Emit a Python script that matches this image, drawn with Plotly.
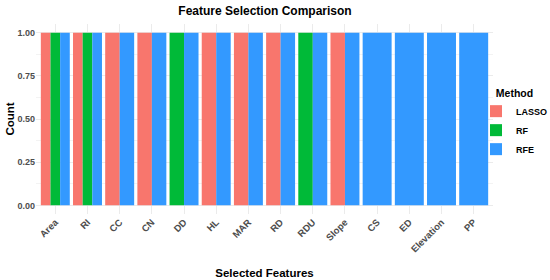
import plotly.graph_objects as go

features = ["Area", "RI", "CC", "CN", "DD", "HL", "MAR", "RD", "RDU", "Slope",
            "CS", "ED", "Elevation", "PP"]
methods = ["LASSO", "RF", "RFE"]
lasso_features = ["Area", "RI", "CC", "CN", "HL", "MAR", "RD", "Slope"]
lasso_counts = [1, 1, 1, 1, 1, 1, 1, 1]
rf_features = ["Area", "RI", "DD", "RDU"]
rf_counts = [1, 1, 1, 1]
rfe_features = ["Area", "RI", "CC", "CN", "DD", "HL", "MAR", "RD", "RDU", "Slope",
                "CS", "ED", "Elevation", "PP"]
rfe_counts = [1, 1, 1, 1, 1, 1, 1, 1, 1, 1, 1, 1, 1, 1]
y_ticks = [0.0, 0.25, 0.5, 0.75, 1.0]
y_tick_labels = ["0.00", "0.25", "0.50", "0.75", "1.00"]

colors = {"LASSO": "#F8766D", "RF": "#00BA38", "RFE": "#3399FF"}
sel = {"LASSO": (lasso_features, lasso_counts),
       "RF": (rf_features, rf_counts),
       "RFE": (rfe_features, rfe_counts)}

# dodge layout like ggplot: bars in a category share total width 0.9
present = {f: [m for m in methods if f in sel[m][0]] for f in features}
TOTAL = 0.9

fig = go.Figure()
for m in methods:
    fx, fy = sel[m]
    widths, offsets = [], []
    for f in fx:
        grp = present[f]
        w = TOTAL / len(grp)
        k = grp.index(m)
        widths.append(w)
        offsets.append(-TOTAL / 2 + k * w)
    fig.add_trace(go.Bar(
        x=fx, y=fy, name=m, width=widths, offset=offsets,
        marker=dict(color=colors[m], line=dict(width=0)),
    ))

font_fam = "Liberation Sans, Arial, sans-serif"
fig.update_layout(
    width=550, height=280,
    barmode="overlay",
    paper_bgcolor="white", plot_bgcolor="white",
    margin=dict(l=36, r=57, t=24, b=66, autoexpand=False),
    font=dict(family=font_fam, color="#000000"),
    title=dict(text="<b>Feature Selection Comparison</b>", x=265 / 550, xref="container",
               xanchor="center", y=1 - 11 / 280, yref="container", yanchor="middle",
               font=dict(size=12, color="#000000")),
    legend=dict(title=dict(text="<b>Method</b>", font=dict(size=10.5), side="top center"),
                xref="container", yref="container",
                x=476 / 550, xanchor="left", y=1 - 83 / 280, yanchor="top",
                font=dict(size=9, weight="bold"), tracegroupgap=0,
                itemwidth=30, bgcolor="rgba(0,0,0,0)"),
    showlegend=True,
)
fig.update_xaxes(
    type="category", categoryorder="array", categoryarray=features,
    range=[-0.6, len(features) - 0.4], automargin=False,
    showgrid=True, gridcolor="#EBEBEB", gridwidth=1,
    tickangle=-45, tickfont=dict(size=9.5, color="#4D4D4D", weight="bold"),
    ticks="", showline=False, zeroline=False,
    title=dict(text="<b>Selected Features</b>", font=dict(size=11.5), standoff=15),
)
fig.update_yaxes(
    range=[-0.05, 1.05], tickvals=y_ticks, ticktext=y_tick_labels, automargin=False,
    showgrid=True, gridcolor="#EBEBEB", gridwidth=1,
    minor=dict(tickvals=[0.125, 0.375, 0.625, 0.875], showgrid=True,
               gridcolor="#F3F3F3", gridwidth=0.5),
    tickfont=dict(size=9, color="#4D4D4D", weight="bold"),
    ticks="", showline=False, zeroline=False,
    title=dict(text="<b>Count</b>", font=dict(size=11.5), standoff=0),
)
fig.write_html("out.html", config={"displayModeBar": False},
               post_script="document.body.style.margin='0px';")
